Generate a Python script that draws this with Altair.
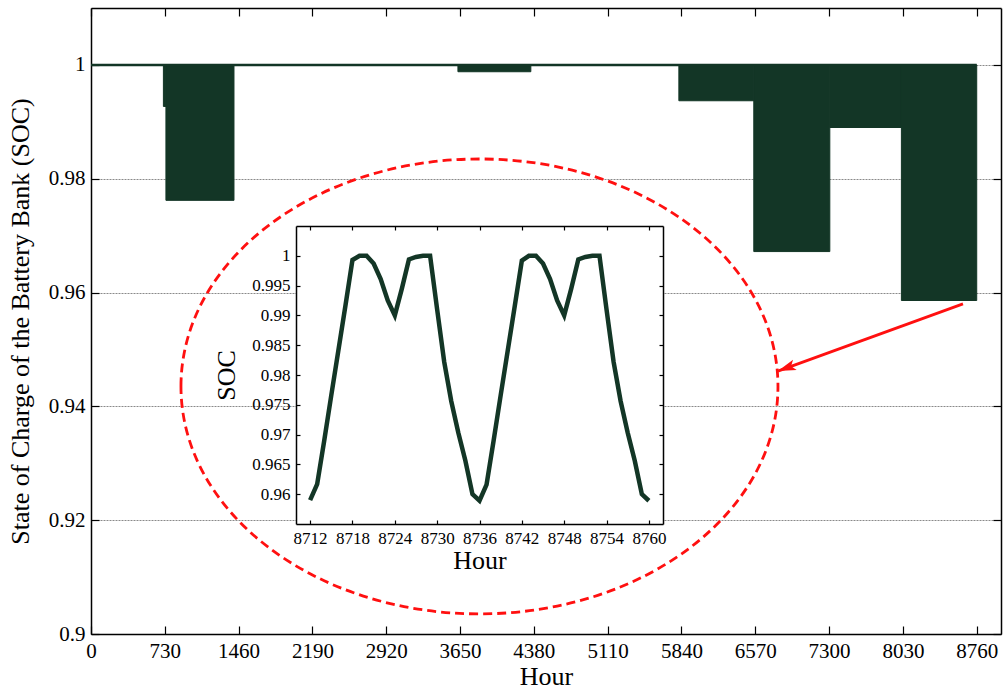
import altair as alt
import pandas as pd

# ---------------- data ----------------
# main chart: hour ranges in which the SOC oscillates between band_min and full charge
band_start = [716, 741, 3629, 5814, 6555, 7307, 8015]
band_end = [741, 1414, 4350, 6555, 7307, 8015, 8760]
band_min = [0.9927, 0.9762, 0.9988, 0.9937, 0.9672, 0.9890, 0.9586]
band_max = [1.0, 1.0, 1.0, 1.0, 1.0, 1.0, 1.0]

# full-charge line over the year
full_start = [0]
full_end = [8760]
full_soc = [1.0]

# inset: last two days of the year, hourly SOC
inset_hour = list(range(8712, 8761))
inset_soc = [
    0.9590, 0.9617, 0.9690, 0.9766, 0.9841, 0.9916, 0.9993, 1.0000, 1.0000,
    0.9987, 0.9961, 0.9925, 0.9900, 0.9945, 0.9994, 0.9998, 1.0000, 1.0000,
    0.9910, 0.9822, 0.9756, 0.9703, 0.9656, 0.9600, 0.9589,
    0.9616, 0.9690, 0.9766, 0.9841, 0.9916, 0.9992, 1.0000, 1.0000,
    0.9987, 0.9961, 0.9925, 0.9900, 0.9945, 0.9994, 0.9998, 1.0000, 1.0000,
    0.9910, 0.9822, 0.9756, 0.9703, 0.9656, 0.9600, 0.9589,
]

x_ticks = [0, 730, 1460, 2190, 2920, 3650, 4380, 5110, 5840, 6570, 7300, 8030, 8760]
y_ticks = [0.90, 0.92, 0.94, 0.96, 0.98, 1.00]
inset_x_ticks = [8712, 8718, 8724, 8730, 8736, 8742, 8748, 8754, 8760]
inset_y_ticks = [0.96, 0.965, 0.97, 0.975, 0.98, 0.985, 0.99, 0.995, 1.0]

# ---------------- layout / style ----------------
W, H = 910, 626
X_DOMAIN = [0, 9000]
Y_DOMAIN = [0.9, 1.01]
INSET_X = [8710, 8762]
INSET_Y = [0.955, 1.005]
INSET_XR = [205, 572]
INSET_YR = [516, 218]

FONT = "Liberation Serif"
GREEN = "#133626"
RED = "#FF1010"

# annotation placement (in main-chart data units)
ELL_HOUR, ELL_SOC = 3842, 0.9435
ARROW_TAIL = (8624, 0.9580)
ARROW_HEAD = (6794, 0.9462)

ELLIPSE_PATH = ("M-1,0C-1,-0.4209,-0.5523,-0.762,0,-0.762"
                "C0.5523,-0.762,1,-0.4209,1,0"
                "C1,0.4209,0.5523,0.762,0,0.762"
                "C-0.5523,0.762,-1,0.4209,-1,0Z")
ARROW_PATH = "M0,0L-2,-0.6L-1.55,0L-2,0.6Z"


def inward(n):
    return alt.ExprRef(expr=str(-n))


xs = alt.Scale(domain=X_DOMAIN, nice=False, zero=False)
ys = alt.Scale(domain=Y_DOMAIN, nice=False, zero=False)
ixs = alt.Scale(domain=INSET_X, range=INSET_XR, nice=False, zero=False)
iys = alt.Scale(domain=INSET_Y, range=INSET_YR, nice=False, zero=False)

bands_df = pd.DataFrame({"start": band_start, "end": band_end,
                         "low": band_min, "high": band_max})
full_df = pd.DataFrame({"start": full_start, "end": full_end, "soc": full_soc})
inset_df = pd.DataFrame({"hour": inset_hour, "soc": inset_soc})

# ---------------- main chart ----------------
bands = alt.Chart(bands_df).mark_rect(color=GREEN, stroke=GREEN, strokeWidth=1).encode(
    x=alt.X("start:Q", scale=xs, axis=alt.Axis(
        orient="bottom", values=x_ticks, title="Hour", format="d", grid=False,
        tickSize=inward(8), labelPadding=14, labelFontSize=21,
        titleFontSize=26, titlePadding=2)),
    x2="end:Q",
    y=alt.Y("low:Q", scale=ys, axis=alt.Axis(
        orient="left", values=y_ticks, format=".2~f",
        title="State of Charge of the Battery Bank (SOC)",
        tickSize=inward(8), labelPadding=14, labelFontSize=21,
        titleFontSize=26, titlePadding=15, grid=True)),
    y2="high:Q",
)

full = alt.Chart(full_df).mark_rule(color=GREEN, strokeWidth=2.5).encode(
    x=alt.X("start:Q", scale=xs, axis=alt.Axis(
        orient="top", values=x_ticks, labels=False, title=None, grid=False,
        tickSize=inward(8))),
    x2="end:Q",
    y=alt.Y("soc:Q", scale=ys, axis=alt.Axis(
        orient="right", values=y_ticks, labels=False, title=None, grid=False,
        tickSize=inward(8))),
)

ellipse = alt.Chart(pd.DataFrame({"hour": [ELL_HOUR], "soc": [ELL_SOC]})).mark_point(
    shape=ELLIPSE_PATH, size=597 * 597, filled=False, stroke=RED,
    strokeWidth=2.8, strokeDash=[9, 5], opacity=1,
).encode(
    x=alt.X("hour:Q", scale=xs, axis=None),
    y=alt.Y("soc:Q", scale=ys, axis=None),
)

arrow_df = pd.DataFrame({"h0": [ARROW_TAIL[0]], "s0": [ARROW_TAIL[1]],
                         "h1": [ARROW_HEAD[0]], "s1": [ARROW_HEAD[1]]})
arrow_line = alt.Chart(arrow_df).mark_rule(color=RED, strokeWidth=2.8).encode(
    x=alt.X("h0:Q", scale=xs, axis=None),
    y=alt.Y("s0:Q", scale=ys, axis=None),
    x2="h1:Q", y2="s1:Q",
)
arrow_head = alt.Chart(arrow_df).mark_point(
    shape=ARROW_PATH, size=324, filled=True, color=RED, opacity=1, angle=160,
).encode(
    x=alt.X("h1:Q", scale=xs, axis=None),
    y=alt.Y("s1:Q", scale=ys, axis=None),
)

main = alt.layer(bands, full, ellipse, arrow_line, arrow_head).resolve_axis(
    x="independent", y="independent")

# ---------------- inset ----------------
bg_df = pd.DataFrame({"x0": [INSET_X[0]], "x1": [INSET_X[1]],
                      "y0": [INSET_Y[0]], "y1": [INSET_Y[1]]})
inset_bg = alt.Chart(bg_df).mark_rect(color="white").encode(
    x=alt.X("x0:Q", scale=ixs, axis=alt.Axis(
        orient="top", offset=-218, values=inset_x_ticks, labels=False, grid=False,
        title=None, tickSize=inward(4), zindex=1)),
    x2="x1:Q",
    y=alt.Y("y0:Q", scale=iys, axis=alt.Axis(
        orient="right", offset=-338, values=inset_y_ticks, labels=False, grid=False,
        title=None, tickSize=inward(4), zindex=1)),
    y2="y1:Q",
)

inset_line = alt.Chart(inset_df).mark_line(color=GREEN, strokeWidth=4.5).encode(
    x=alt.X("hour:Q", scale=ixs, axis=alt.Axis(
        orient="bottom", offset=-110, values=inset_x_ticks, format="d", grid=False,
        title="Hour", tickSize=inward(4), labelPadding=10, labelFontSize=17,
        titleFontSize=26, titlePadding=1, zindex=1)),
    y=alt.Y("soc:Q", scale=iys, axis=alt.Axis(
        orient="left", offset=-205, values=inset_y_ticks, format=".3~f", grid=False,
        title="SOC", tickSize=inward(4), labelPadding=10, labelFontSize=17,
        titleFontSize=26, titlePadding=12, zindex=1)),
)

inset = alt.layer(inset_bg, inset_line).resolve_axis(x="independent", y="independent")

chart = alt.layer(main, inset).resolve_scale(
    x="independent", y="independent"
).properties(
    width=W, height=H,
    autosize=alt.AutoSizeParams(type="none"),
    padding={"left": 91, "top": 8, "right": 2, "bottom": 57},
    background="white",
).configure_view(
    stroke=None
).configure_axis(
    labelFont=FONT, titleFont=FONT, labelColor="black", titleColor="black",
    titleFontWeight="normal", domainColor="black", tickColor="black",
    domainWidth=1.5, tickWidth=1.2, gridColor="#8a8a8a", gridDash=[2, 1],
    gridWidth=1, labelFlush=False, labelOverlap=False,
)

chart.save("out.html", embed_options={"renderer": "svg", "actions": False})
